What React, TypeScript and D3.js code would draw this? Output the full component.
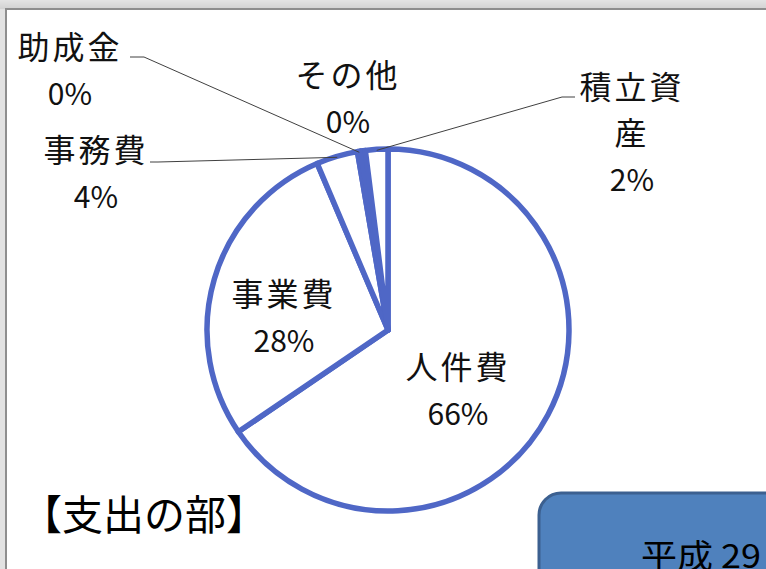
import React, { useEffect } from "react";
import * as d3 from "d3";

const categories = ["人件費", "事業費", "事務費", "助成金", "その他", "積立資産"];
const values = [65.5, 28.1, 3.7, 0.3, 0.4, 2.0];
const labelLines = [["人件費"], ["事業費"], ["事務費"], ["助成金"], ["その他"], ["積立資", "産"]];
const title = "【支出の部】";
const boxText = "平成 29";

const W = 766;
const H = 569;
const cx = 388;
const cy = 330;
const R = 181;
const BLUE = "#4f67c6";
const FONT = "'Noto Sans CJK JP', 'Noto Sans', sans-serif";

const labelPos: Record<string, { x: number; y: number; lead?: [number, number, number] }> = {
  人件費: { x: 458, y: 379 },
  事業費: { x: 284, y: 306 },
  事務費: { x: 96, y: 162, lead: [150, 162, 158] },
  助成金: { x: 70, y: 59, lead: [130, 57, 144] },
  その他: { x: 348, y: 87 },
  積立資産: { x: 632, y: 99, lead: [575, 97, 562] },
};

export default function App() {
  useEffect(() => {
    document.body.style.margin = "0";
  }, []);

  const total = d3.sum(values);
  const pie = d3
    .pie<number>()
    .sort(null)
    .value((d) => d)
    .startAngle(0)
    .endAngle(2 * Math.PI);
  const arcs = pie(values);
  const arc = d3.arc<d3.PieArcDatum<number>>().innerRadius(0).outerRadius(R);
  const outerPt = (a: d3.PieArcDatum<number>) => {
    const m = (a.startAngle + a.endAngle) / 2;
    return [cx + Math.sin(m) * (R - 1), cy - Math.cos(m) * (R - 1)];
  };

  return (
    <svg width={W} height={H} style={{ display: "block", position: "absolute", left: 0, top: 0 }}>
      <defs>
        <linearGradient id="topg" x1="0" y1="0" x2="0" y2="1">
          <stop offset="0" stopColor="#e4e4e4" />
          <stop offset="1" stopColor="#d2d2d2" />
        </linearGradient>
      </defs>
      <rect x={0} y={0} width={W} height={H} fill="#e2e2e2" />
      <rect x={0} y={0} width={W} height={9} fill="url(#topg)" />
      <rect x={5} y={8} width={W - 5} height={H - 8} fill="#8e8e8e" />
      <rect x={7} y={10} width={W - 7} height={H - 10} fill="#ffffff" />

      <g transform={`translate(${cx},${cy})`}>
        {arcs.map((a, i) => (
          <path
            key={categories[i]}
            d={arc(a) || ""}
            fill="#ffffff"
            stroke={BLUE}
            strokeWidth={5.5}
            strokeLinejoin="round"
          />
        ))}
      </g>

      {arcs.map((a, i) => {
        const lp = labelPos[categories[i]];
        if (!lp.lead) return null;
        const [px, py] = outerPt(a);
        const [ex, ey, elbow] = lp.lead;
        return (
          <polyline
            key={"l" + i}
            points={`${ex},${ey} ${elbow},${ey} ${px},${py}`}
            fill="none"
            stroke="#404040"
            strokeWidth={1}
          />
        );
      })}

      {arcs.map((a, i) => {
        const lp = labelPos[categories[i]];
        const lines = [...labelLines[i], `${Math.round((values[i] / total) * 100)}%`];
        return (
          <text key={"t" + i} fontFamily={FONT} fill="#111" textAnchor="middle">
            {lines.map((ln, j) => (
              <tspan
                key={j}
                x={lp.x}
                y={lp.y + j * 46}
                letterSpacing={j === lines.length - 1 ? 0 : 3}
                fontSize={j === lines.length - 1 ? 30 : 32}
              >
                {ln}
              </tspan>
            ))}
          </text>
        );
      })}

      <text x={21} y={530} fontFamily={FONT} fontSize={41} fill="#000">
        {title}
      </text>

      <rect x={539} y={493} width={260} height={120} rx={22} ry={22} fill="#4f81bd" stroke="#3c6090" strokeWidth={3} />
      <text x={641} y={568} fontFamily={FONT} fontSize={33} fill="#000" textLength={120} lengthAdjust="spacingAndGlyphs">
        {boxText}
      </text>
    </svg>
  );
}
